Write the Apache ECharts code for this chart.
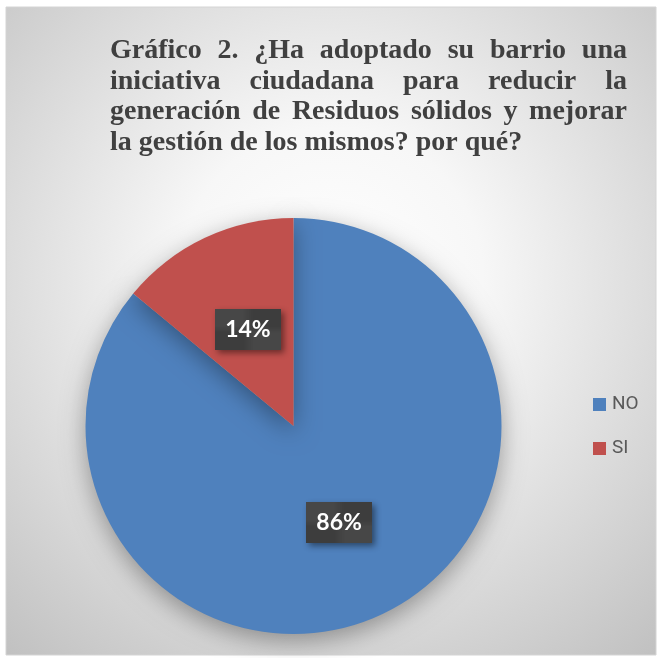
<!DOCTYPE html>
<html>
<head>
<meta charset="utf-8">
<style>
  html, body { margin: 0; padding: 0; background: #ffffff; }
  #chart { width: 661px; height: 658px; }
</style>
<script src="https://cdn.jsdelivr.net/npm/echarts@6/dist/echarts.min.js"></script>
</head>
<body>
<div id="chart"></div>
<script>
// ---- data ----
const categories = ['NO', 'SI'];
const values = [86, 14];
const seriesColors = ['#4f81bd', '#c0504d'];
const titleLines = [
  'Gráfico 2. ¿Ha adoptado su barrio una',
  'iniciativa ciudadana para reducir la',
  'generación de Residuos sólidos y mejorar',
  'la gestión de los mismos? por qué?'
];

// ---- layout ----
const TITLE_FONT = 'bold 28px "Liberation Serif"';
const TITLE_LEFT = 110, TITLE_RIGHT = 627;
const TITLE_Y = [51, 81.5, 112, 142.5];

const ctx = document.createElement('canvas').getContext('2d');
ctx.font = TITLE_FONT;

const titleGraphics = [];
titleLines.forEach((line, li) => {
  const words = line.split(' ');
  const widths = words.map(w => ctx.measureText(w).width);
  const total = widths.reduce((a, b) => a + b, 0);
  const isLast = li === titleLines.length - 1;
  const gap = isLast ? ctx.measureText(' ').width
                     : (TITLE_RIGHT - TITLE_LEFT - total) / (words.length - 1);
  let x = TITLE_LEFT;
  words.forEach((w, wi) => {
    titleGraphics.push({
      type: 'text',
      x: x, y: TITLE_Y[li],
      style: {
        text: w,
        font: TITLE_FONT,
        fill: '#404040',
        verticalAlign: 'middle',
        align: 'left'
      },
      z: 10
    });
    x += widths[wi] + gap;
  });
});

// small checker pattern for the label boxes
const pat = document.createElement('canvas');
pat.width = 6; pat.height = 6;
const pctx = pat.getContext('2d');
pctx.fillStyle = '#3d3d3d';
pctx.fillRect(0, 0, 6, 6);
pctx.fillStyle = '#474747';
pctx.fillRect(0, 0, 3, 3);
pctx.fillRect(3, 3, 3, 3);

const chart = echarts.init(document.getElementById('chart'), null, { renderer: 'canvas' });

const option = {
  animation: false,
  backgroundColor: '#ffffff',
  graphic: [
    {
      type: 'rect',
      shape: { x: 6, y: 7, width: 650, height: 648 },
      style: {
        fill: {
          type: 'radial', x: 0.5, y: 0.42, r: 0.78,
          colorStops: [
            { offset: 0, color: '#ffffff' },
            { offset: 0.3, color: '#f7f7f7' },
            { offset: 1, color: '#bfbfbf' }
          ]
        },
        stroke: '#d4d4d4',
        lineWidth: 1
      },
      z: -10,
      silent: true
    }
  ].concat(titleGraphics),
  legend: {
    orient: 'vertical',
    left: 593,
    top: 395,
    padding: 0,
    itemWidth: 13,
    itemHeight: 13,
    itemGap: 25,
    icon: 'rect',
    data: categories,
    textStyle: {
      fontFamily: 'Roboto',
      fontSize: 19,
      color: '#595959',
      padding: [0, 0, 0, 1]
    }
  },
  series: [
    {
      type: 'pie',
      center: [293.5, 426],
      radius: 208,
      startAngle: 90,
      clockwise: true,
      avoidLabelOverlap: false,
      data: categories.map((c, i) => ({
        name: c,
        value: values[i],
        itemStyle: { color: seriesColors[i] }
      })),
      itemStyle: {
        borderWidth: 0,
        shadowBlur: 24,
        shadowOffsetY: 7,
        shadowColor: 'rgba(0,0,0,0.35)'
      },
      label: {
        show: true,
        position: 'inside',
        formatter: '{c}%',
        color: '#ffffff',
        fontFamily: 'Lato',
        fontWeight: 'bold',
        fontSize: 23,
        backgroundColor: { image: pat, repeat: 'repeat' },
        padding: [10, 10, 8, 10],
        shadowBlur: 6,
        shadowOffsetX: 3,
        shadowOffsetY: 3,
        shadowColor: 'rgba(0,0,0,0.45)'
      },
      labelLine: { show: false },
      emphasis: { disabled: true }
    }
  ]
};

chart.setOption(option);
</script>
</body>
</html>
